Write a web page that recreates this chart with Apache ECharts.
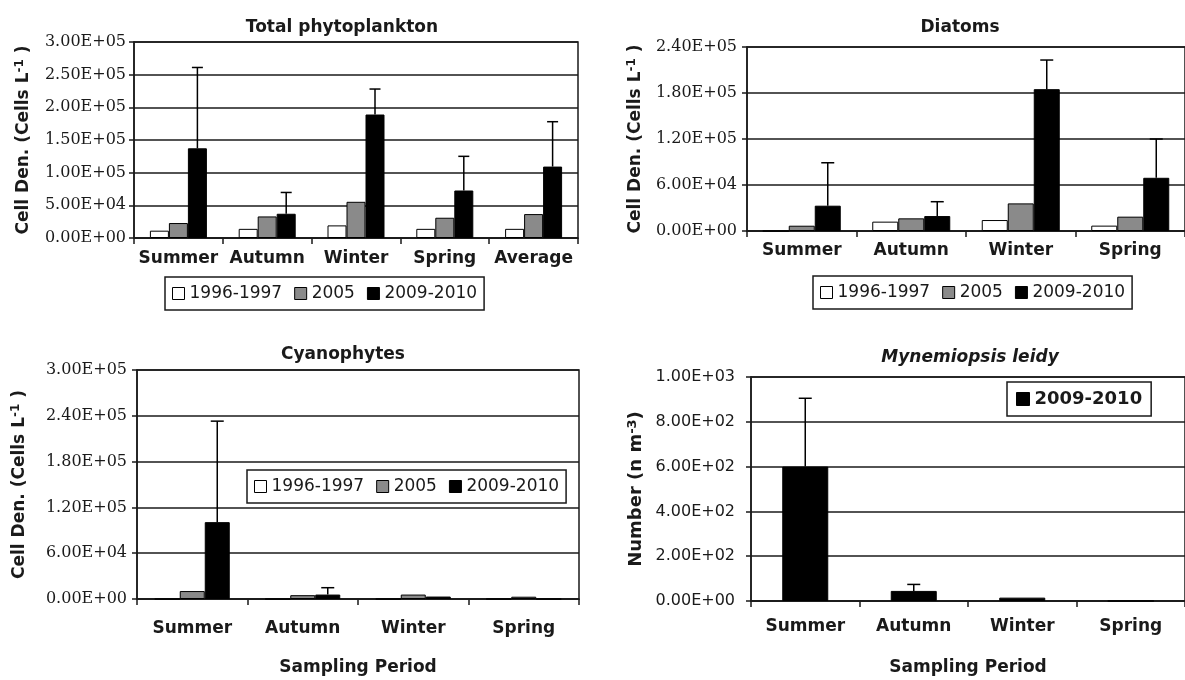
<!DOCTYPE html>
<html>
<head>
<meta charset="utf-8">
<script src="https://cdn.jsdelivr.net/npm/echarts@6/dist/echarts.min.js"></script>
<style>
html,body{margin:0;padding:0;background:#fff;}
#chart{width:1185px;height:680px;}
</style>
</head>
<body>
<div id="chart"></div>
<script>
// ---------- data ----------
const seriesNames = ['1996-1997', '2005', '2009-2010'];

const totalCategories = ['Summer', 'Autumn', 'Winter', 'Spring', 'Average'];
const total1996 = [11200, 14000, 19300, 14000, 14000];
const total2005 = [22900, 33000, 55400, 31000, 36600];
const total2009 = [137300, 37100, 189000, 72700, 109300];
const totalErrTop = [261000, 69700, 228000, 125000, 178000];

const seasonCategories = ['Summer', 'Autumn', 'Winter', 'Spring'];
const diatoms1996 = [0, 12200, 14300, 7000];
const diatoms2005 = [6900, 16500, 36000, 18700];
const diatoms2009 = [33000, 19500, 185000, 69400];
const diatomsErrTop = [89000, 38200, 223000, 120000];

const cyano1996 = [0, 0, 0, 0];
const cyano2005 = [10400, 5000, 5800, 3000];
const cyano2009 = [100700, 5800, 3200, 0];
const cyanoErrTop = [233000, 14800, null, null];

const mnemi2009 = [600, 45, 15, 0];
const mnemiErrTop = [905, 74, null, null];

// axis ranges [min, max, interval]
const totalAxis = [0, 300000, 50000];
const diatomsAxis = [0, 240000, 60000];
const cyanoAxis = [0, 300000, 60000];
const mnemiAxis = [0, 1000, 200];

// ---------- helpers ----------
function fmtE(v) {
  const parts = Number(v).toExponential(2).split('e');
  const sign = parts[1][0] === '-' ? '-' : '+';
  const d = parts[1].replace(/[+-]/, '').padStart(2, '0');
  return parts[0] + 'E' + sign + d;
}
const colors = ['#ffffff', '#8a8a8a', '#000000'];
const catFont = {fontFamily: 'DejaVu Sans', fontWeight: 'bold', fontSize: 17, color: '#1a1a1a'};
const serifTick = {fontFamily: 'DejaVu Serif', fontSize: 16, color: '#1a1a1a'};
const sansTick = {fontFamily: 'DejaVu Sans', fontSize: 16, color: '#1a1a1a'};
const lineStyle = {color: '#1a1a1a', width: 1.5};

function xAxisFor(grid, cats, margin, withName, nameGap) {
  const ax = {
    type: 'category', gridIndex: grid, data: cats, boundaryGap: true,
    axisLine: {lineStyle: lineStyle},
    axisTick: {show: true, length: 6, lineStyle: lineStyle},
    axisLabel: Object.assign({margin: margin, interval: 0}, catFont),
    splitLine: {show: false}
  };
  if (withName) {
    ax.name = 'Sampling Period';
    ax.nameLocation = 'middle';
    ax.nameGap = nameGap;
    ax.nameTextStyle = {fontFamily: 'DejaVu Sans', fontWeight: 'bold', fontSize: 17, color: '#1a1a1a'};
  }
  return ax;
}
function yAxisFor(grid, range, tickFont, margin, name, rich, nameGap) {
  return {
    type: 'value', gridIndex: grid, min: range[0], max: range[1], interval: range[2],
    axisLine: {show: true, lineStyle: lineStyle},
    axisTick: {show: true, length: 5, lineStyle: lineStyle},
    axisLabel: Object.assign({margin: margin, formatter: fmtE}, tickFont),
    splitLine: {show: true, lineStyle: {color: '#1a1a1a', width: 1.5}},
    name: name, nameLocation: 'middle', nameRotate: 90, nameGap: nameGap,
    nameTextStyle: {rich: rich}
  };
}
function richFor(size) {
  return {
    a: {fontFamily: 'DejaVu Sans', fontWeight: 'bold', fontSize: size, color: '#1a1a1a'},
    s: {fontFamily: 'DejaVu Sans', fontWeight: 'bold', fontSize: Math.round(size * 0.7), color: '#1a1a1a', padding: [0, 0, 8, 0]}
  };
}
function barSeries(name, idx, data, xi, w) {
  return {
    name: name, type: 'bar', xAxisIndex: xi, yAxisIndex: xi, data: data,
    barWidth: w, barGap: '0%',
    itemStyle: {color: colors[idx], borderColor: '#000', borderWidth: 1},
    emphasis: {disabled: true}
  };
}
function errSeries(xi, means, tops, offset, cap) {
  const d = [];
  tops.forEach(function (t, i) { if (t !== null) d.push([i, means[i], t]); });
  return {
    type: 'custom', xAxisIndex: xi, yAxisIndex: xi, data: d, silent: true, z: 5,
    encode: {x: 0, y: 2},
    renderItem: function (params, api) {
      const x = api.coord([api.value(0), 0])[0] + offset;
      const yb = api.coord([api.value(0), api.value(1)])[1];
      const yt = api.coord([api.value(0), api.value(2)])[1];
      const st = {stroke: '#000', lineWidth: 1.5};
      return {type: 'group', children: [
        {type: 'line', shape: {x1: x, y1: yb, x2: x, y2: yt}, style: st},
        {type: 'line', shape: {x1: x - cap / 2, y1: yt, x2: x + cap / 2, y2: yt}, style: st}
      ]};
    }
  };
}
function legendFor(names, left, top, extra) {
  return Object.assign({
    data: names, left: left, top: top, orient: 'horizontal',
    icon: 'rect', itemWidth: 12, itemHeight: 12, itemGap: 12,
    padding: [8, 7], borderColor: '#1a1a1a', borderWidth: 1.5, backgroundColor: '#fff',
    itemStyle: {borderColor: '#000', borderWidth: 1},
    textStyle: {fontFamily: 'DejaVu Sans', fontSize: 17, color: '#1a1a1a'},
    selectedMode: false
  }, extra || {});
}

const gridStyle = {show: true, borderColor: '#1a1a1a', borderWidth: 1.5, backgroundColor: 'transparent', containLabel: false};

const option = {
  animation: false,
  backgroundColor: '#fff',
  title: [
    {text: 'Total phytoplankton', left: 337, top: 14, textAlign: 'center',
     textStyle: {fontFamily: 'DejaVu Sans', fontWeight: 'bold', fontSize: 17, color: '#1a1a1a'}},
    {text: 'Diatoms', left: 955, top: 14, textAlign: 'center',
     textStyle: {fontFamily: 'DejaVu Sans', fontWeight: 'bold', fontSize: 17, color: '#1a1a1a'}},
    {text: 'Cyanophytes', left: 338, top: 341, textAlign: 'center',
     textStyle: {fontFamily: 'DejaVu Sans', fontWeight: 'bold', fontSize: 17, color: '#1a1a1a'}},
    {text: 'Mynemiopsis leidy', left: 965, top: 344, textAlign: 'center',
     textStyle: {fontFamily: 'DejaVu Sans', fontWeight: 'bold', fontStyle: 'italic', fontSize: 17, color: '#1a1a1a'}}
  ],
  grid: [
    Object.assign({left: 134, top: 42, width: 444, height: 196}, gridStyle),
    Object.assign({left: 747, top: 47, width: 448, height: 184}, gridStyle),
    Object.assign({left: 137, top: 370, width: 442, height: 229}, gridStyle),
    Object.assign({left: 751, top: 377, width: 462, height: 224}, gridStyle)
  ],
  xAxis: [
    xAxisFor(0, totalCategories, 12, false),
    xAxisFor(1, seasonCategories, 11, false),
    xAxisFor(2, seasonCategories, 21, true, 60),
    xAxisFor(3, seasonCategories, 17, true, 58)
  ],
  yAxis: [
    yAxisFor(0, totalAxis, serifTick, 8, '{a|Cell Den. (Cells L}{s|-1}{a| )}', richFor(17), 100),
    yAxisFor(1, diatomsAxis, serifTick, 10, '{a|Cell Den. (Cells L}{s|-1}{a| )}', richFor(17), 101),
    yAxisFor(2, cyanoAxis, serifTick, 10, '{a|Cell Den. (Cells L}{s|-1}{a| )}', richFor(17), 107),
    yAxisFor(3, mnemiAxis, sansTick, 16, '{a|Number (n m}{s|-3}{a|)}', richFor(18), 104)
  ],
  legend: [
    legendFor(seriesNames, 165, 277),
    legendFor(seriesNames, 813, 276),
    legendFor(seriesNames, 247, 470),
    legendFor(['2009-2010'], 1007, 382, {
      itemWidth: 13, itemHeight: 13, padding: [8, 9],
      textStyle: {fontFamily: 'DejaVu Sans', fontWeight: 'bold', fontSize: 18, color: '#1a1a1a'}
    })
  ],
  series: [
    barSeries(seriesNames[0], 0, total1996, 0, 19),
    barSeries(seriesNames[1], 1, total2005, 0, 19),
    barSeries(seriesNames[2], 2, total2009, 0, 19),
    errSeries(0, total2009, totalErrTop, 19, 11),

    barSeries(seriesNames[0], 0, diatoms1996, 1, 26),
    barSeries(seriesNames[1], 1, diatoms2005, 1, 26),
    barSeries(seriesNames[2], 2, diatoms2009, 1, 26),
    errSeries(1, diatoms2009, diatomsErrTop, 26, 13),

    barSeries(seriesNames[0], 0, cyano1996, 2, 25),
    barSeries(seriesNames[1], 1, cyano2005, 2, 25),
    barSeries(seriesNames[2], 2, cyano2009, 2, 25),
    errSeries(2, cyano2009, cyanoErrTop, 25, 13),

    barSeries(seriesNames[2], 2, mnemi2009, 3, 46),
    errSeries(3, mnemi2009, mnemiErrTop, 0, 13)
  ]
};

const chart = echarts.init(document.getElementById('chart'), null, {renderer: 'canvas'});
chart.setOption(option);
</script>
</body>
</html>
